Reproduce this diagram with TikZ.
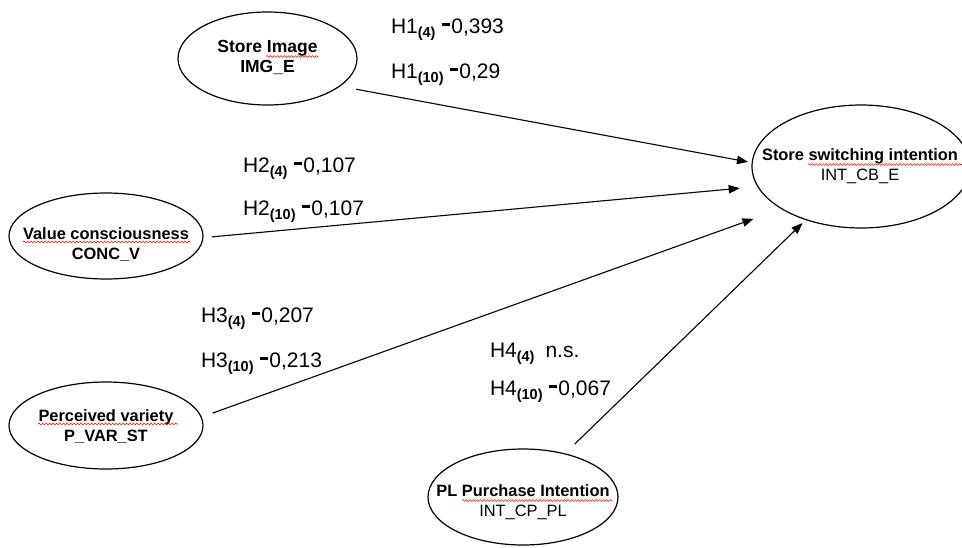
\documentclass[tikz,border=0pt]{standalone}
\usepackage{fontspec}
\setmainfont{Liberation Sans}
\usetikzlibrary{arrows.meta,shapes.geometric,decorations.pathmorphing}
\newcommand\hyp[3]{#1\raisebox{-4pt}{\fontsize{14.5}{14.5}\selectfont\bfseries #2}\hspace{6pt}\rule[6.8pt]{8.8pt}{2.9pt}\hspace{1pt}#3}
\newcommand\hypns[2]{#1\raisebox{-4pt}{\fontsize{14.5}{14.5}\selectfont\bfseries #2}\hspace{11pt}n.s.}
\begin{document}
\begin{tikzpicture}[x=1pt,y=-1pt,
  ell/.style={draw, ellipse, line width=1.2pt, inner sep=0pt, outer sep=0pt},
  txt/.style={inner sep=0pt, outer sep=0pt, align=center, font=\fontsize{16.4}{20}\selectfont},
  lab/.style={anchor=base west, inner sep=0pt, outer sep=0pt, font=\fontsize{21}{24}\selectfont},
  arr/.style={-{Triangle[length=11pt,width=8.5pt]}, line width=1.1pt},
  squig/.style={red, line width=0.6pt, decorate, decoration={snake, amplitude=0.9pt, segment length=3.5pt}}]
\useasboundingbox (0,0) rectangle (962,547);
% ellipses
\node[ell, minimum width=179pt, minimum height=93pt] (simg) at (267.5,58.5) {};
\node[ell, minimum width=218pt, minimum height=123pt] (ssi) at (861,166.5) {};
\node[ell, minimum width=194pt, minimum height=86pt] (conc) at (106,236) {};
\node[ell, minimum width=194pt, minimum height=87pt] (pvar) at (106,425.5) {};
\node[ell, minimum width=190pt, minimum height=96pt] (plpi) at (523,497) {};
% texts
\node[txt, font=\fontsize{17.5}{20}\selectfont] (simgT) at ([yshift=1pt]simg.center) {\textbf{Store Image}\\\textbf{IMG\_E}};
\node[txt] (ssiT) at ([xshift=-1pt]ssi.center) {\textbf{Store switching intention}\\INT\_CB\_E};
\node[txt] (concT) at ([yshift=-9pt]conc.center) {\textbf{Value consciousness}\\\textbf{CONC\_V}};
\node[txt] (pvarT) at ([yshift=-1.5pt]pvar.center) {\textbf{Perceived variety}\\\textbf{P\_VAR\_ST}};
\node[txt] (plpiT) at ([yshift=-5pt]plpi.center) {\textbf{PL Purchase Intention}\\INT\_CP\_PL};
% spell-check squiggles
\draw[squig] (266,56.5) -- (318,56.5);
\draw[squig] (23,242) -- (190,242);
\draw[squig] (38,424) -- (178,424);
\draw[squig] (808,164.5) -- (962,164.5);
\draw[squig] (462,500.5) -- (612,500.5);
% connectors
\draw[arr, shorten <=17pt, shorten >=4.3pt] (simg.-21.9) -- (ssi.178.1);
\draw[arr, shorten <=9pt, shorten >=18.3pt] (conc.-1.1) -- (ssi.-169.75);
\draw[arr, shorten <=12pt, shorten >=30pt] (pvar.5.7) -- (ssi.-152.9);
\draw[arr, shorten <=14pt, shorten >=5pt] (plpi.46.6) -- (ssi.-136.3);
% labels
\node[lab] (h1a) at (391,33) {\hyp{H1}{(4)}{0,393}};
\node[lab] (h1b) at (391,78) {\hyp{H1}{(10)}{0,29}};
\node[lab] (h2a) at (243,172) {\hyp{H2}{(4)}{0,107}};
\node[lab] (h2b) at (243,215) {\hyp{H2}{(10)}{0,107}};
\node[lab] (h3a) at (201,322) {\hyp{H3}{(4)}{0,207}};
\node[lab] (h3b) at (201,367) {\hyp{H3}{(10)}{0,213}};
\node[lab] (h4a) at (490,357) {\hypns{H4}{(4)}};
\node[lab] (h4b) at (490,395) {\hyp{H4}{(10)}{0,067}};
\end{tikzpicture}
\end{document}
